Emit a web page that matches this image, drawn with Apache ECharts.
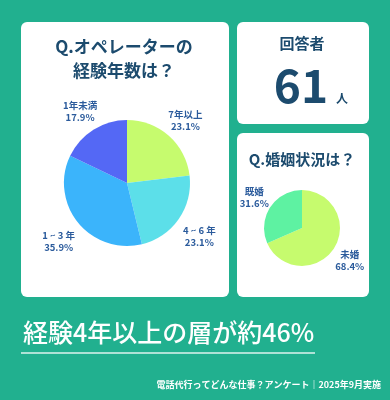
<!DOCTYPE html>
<html><head><meta charset="utf-8">
<script src="https://cdn.jsdelivr.net/npm/echarts@6/dist/echarts.min.js"></script>
<style>html,body{margin:0;padding:0;background:#21b08f;}#c{width:390px;height:400px;}</style>
</head><body><div id="c"></div>
<script>
const expCategories = ['7年以上', '4 ~ 6 年', '1 ~ 3 年', '1年未満'];
const expValues = [23.1, 23.1, 35.9, 17.9];
const expColors = ['#c6fb6e', '#5cdfe9', '#3bb4fb', '#5468f5'];
const marCategories = ['未婚', '既婚'];
const marValues = [68.4, 31.6];
const marColors = ['#c6fb6e', '#5ef2a2'];
const respondents = '61';

const FONT = '"Noto Sans CJK JP", "Noto Sans", sans-serif';
const NAVY = '#1c4b6e';
const LABEL = '#2b5b9c';

function outerLabel(gap, dyShift) {
  return function (p) {
    const pts = p.labelLinePoints;
    if (!pts) return {};
    const dx = pts[1][0] - pts[0][0], dy = pts[1][1] - pts[0][1];
    const len = Math.hypot(dx, dy) || 1;
    return { x: pts[0][0] + dx / len * gap, y: pts[0][1] + dy / len * gap + dyShift, align: 'center', verticalAlign: 'middle' };
  };
}

function pieSeries(cats, vals, colors, center, radius, gap, dyShift) {
  return {
    type: 'pie', center: center, radius: radius, startAngle: 90, clockwise: true,
    silent: true, animation: false, z: 5,
    data: cats.map((c, i) => ({ name: c, value: vals[i], itemStyle: { color: colors[i] } })),
    label: {
      show: true, position: 'outside', formatter: '{b}\n{c}%',
      fontFamily: FONT, fontSize: 9.5, fontWeight: 'bold', color: LABEL, lineHeight: 12
    },
    labelLine: { show: true, length: 6, length2: 0, lineStyle: { opacity: 0 } },
    labelLayout: outerLabel(gap, dyShift)
  };
}

const chart = echarts.init(document.getElementById('c'), null, { renderer: 'canvas' });
chart.setOption({
  backgroundColor: '#21b08f',
  animation: false,
  graphic: [
    { type: 'rect', shape: { x: 21, y: 22, width: 208, height: 275, r: 6 }, style: { fill: '#ffffff' }, z: 1 },
    { type: 'rect', shape: { x: 237, y: 22, width: 132, height: 102, r: 6 }, style: { fill: '#ffffff' }, z: 1 },
    { type: 'rect', shape: { x: 237, y: 133, width: 132, height: 164, r: 6 }, style: { fill: '#ffffff' }, z: 1 },
    { type: 'text', x: 124, y: 47, z: 3, style: { text: 'Q.オペレーターの', fill: NAVY, font: 'bold 17px ' + FONT, align: 'center', verticalAlign: 'middle' } },
    { type: 'text', x: 124, y: 71, z: 3, style: { text: '経験年数は？', fill: NAVY, font: 'bold 17px ' + FONT, align: 'center', verticalAlign: 'middle' } },
    { type: 'text', x: 302, y: 43, z: 3, style: { text: '回答者', fill: NAVY, font: 'bold 15px ' + FONT, align: 'center', verticalAlign: 'middle' } },
    { type: 'text', x: 301, y: 86, z: 3, style: { text: respondents, fill: NAVY, font: 'bold 46px ' + FONT, align: 'center', verticalAlign: 'middle' } },
    { type: 'text', x: 342, y: 98, z: 3, style: { text: '人', fill: NAVY, font: 'bold 12px ' + FONT, align: 'center', verticalAlign: 'middle' } },
    { type: 'text', x: 302, y: 159, z: 3, style: { text: 'Q.婚姻状況は？', fill: NAVY, font: 'bold 15px ' + FONT, align: 'center', verticalAlign: 'middle' } },
    { type: 'text', x: 23, y: 332, z: 3, style: { text: '経験4年以上の層が約46%', fill: '#ffffff', font: '500 25px ' + FONT, align: 'left', verticalAlign: 'middle' } },
    { type: 'line', z: 3, shape: { x1: 21, y1: 353, x2: 315, y2: 353 }, style: { stroke: 'rgba(255,255,255,0.85)', lineWidth: 1.5 } },
    { type: 'text', x: 381, y: 385, z: 3, style: { text: '電話代行ってどんな仕事？アンケート｜2025年9月実施', fill: '#ffffff', font: 'bold 9px ' + FONT, align: 'right', verticalAlign: 'middle' } }
  ],
  series: [
    pieSeries(expCategories, expValues, expColors, [127, 183], 63, 25, 3),
    pieSeries(marCategories, marValues, marColors, [302, 228], 38, 19, 1)
  ]
});
</script></body></html>
